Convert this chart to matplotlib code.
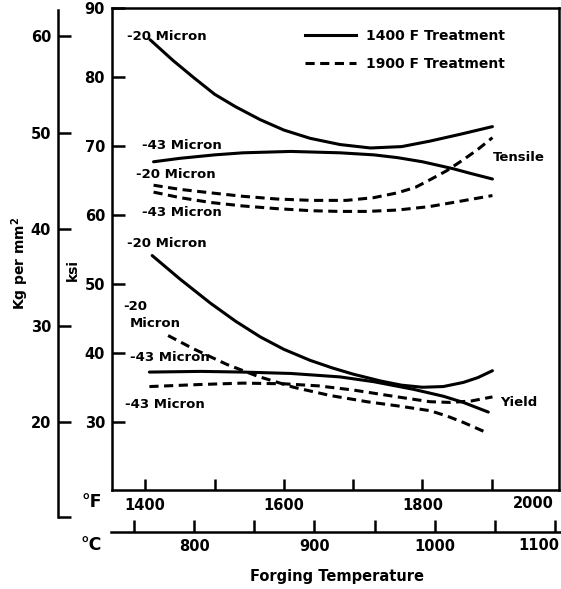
import matplotlib
matplotlib.use("Agg")
import matplotlib.pyplot as plt
from matplotlib.lines import Line2D

plt.rcParams['font.family'] = 'DejaVu Sans'
plt.rcParams['font.weight'] = 'bold'

# --- values (forging temperature F, strength ksi) ---
# tensile, 1400 F treatment
ten_20_solid_f = [1407, 1440, 1470, 1500, 1530, 1566, 1600, 1638, 1681, 1725, 1770, 1811, 1855, 1901]
ten_20_solid_k = [85.4, 82.4, 79.9, 77.5, 75.7, 73.8, 72.3, 71.1, 70.2, 69.7, 69.9, 70.7, 71.7, 72.8]
ten_43_solid_f = [1412, 1450, 1500, 1541, 1610, 1681, 1730, 1764, 1800, 1844, 1870, 1901]
ten_43_solid_k = [67.7, 68.2, 68.7, 69.0, 69.2, 69.0, 68.7, 68.3, 67.7, 66.7, 66.0, 65.2]
# tensile, 1900 F treatment
ten_20_dash_f = [1412, 1450, 1494, 1540, 1590, 1640, 1690, 1730, 1764, 1790, 1811, 1835, 1859, 1880, 1901]
ten_20_dash_k = [64.3, 63.7, 63.2, 62.7, 62.3, 62.1, 62.1, 62.5, 63.2, 64.0, 65.1, 66.4, 68.0, 69.5, 71.2]
ten_43_dash_f = [1412, 1450, 1494, 1540, 1590, 1640, 1681, 1720, 1764, 1810, 1850, 1901]
ten_43_dash_k = [63.3, 62.5, 61.8, 61.3, 60.9, 60.6, 60.5, 60.5, 60.7, 61.2, 61.9, 62.8]
# yield, 1400 F treatment
yld_20_solid_f = [1410, 1450, 1494, 1530, 1566, 1600, 1638, 1670, 1700, 1740, 1770, 1800, 1830, 1859, 1880, 1901]
yld_20_solid_k = [54.1, 50.7, 47.2, 44.6, 42.3, 40.5, 38.9, 37.8, 36.9, 35.9, 35.3, 35.0, 35.1, 35.7, 36.4, 37.4]
yld_43_solid_f = [1406, 1480, 1541, 1610, 1681, 1730, 1787, 1830, 1859, 1895]
yld_43_solid_k = [37.2, 37.3, 37.2, 37.0, 36.5, 35.8, 34.7, 33.7, 32.8, 31.4]
# yield, 1900 F treatment
yld_20_dash_f = [1433, 1469, 1518, 1562, 1614, 1667, 1720, 1764, 1811, 1836, 1859, 1893]
yld_20_dash_k = [42.5, 40.6, 38.3, 36.6, 35.0, 33.8, 32.9, 32.3, 31.6, 30.8, 29.9, 28.4]
yld_43_dash_f = [1406, 1480, 1541, 1600, 1650, 1700, 1764, 1811, 1840, 1870, 1901]
yld_43_dash_k = [35.1, 35.4, 35.6, 35.5, 35.2, 34.6, 33.6, 32.9, 32.8, 33.0, 33.6]

ksi_ticks = [30, 40, 50, 60, 70, 80, 90]
kg_ticks = [20, 30, 40, 50, 60]
f_major = [1400, 1600, 1800]
f_minor = [1500, 1700, 1900]
c_major = [800, 900, 1000]
c_minor = [750, 850, 950, 1050, 1100]

LW = 2.2
DASH = (3.0, 1.8)

fig = plt.figure(figsize=(5.61, 5.89), dpi=100)

# main box (F vs ksi)
ax = fig.add_axes([0.1996, 0.1681, 0.7968, 0.8183])
ax.set_xlim(1352, 1997)
ax.set_ylim(20.1, 90)
for s in ax.spines.values():
    s.set_linewidth(1.8)

for xs, ys in [(ten_20_solid_f, ten_20_solid_k), (ten_43_solid_f, ten_43_solid_k),
               (yld_20_solid_f, yld_20_solid_k), (yld_43_solid_f, yld_43_solid_k)]:
    ax.plot(xs, ys, color='black', lw=LW, solid_capstyle='round', solid_joinstyle='round')
for xs, ys in [(ten_20_dash_f, ten_20_dash_k), (ten_43_dash_f, ten_43_dash_k),
               (yld_20_dash_f, yld_20_dash_k), (yld_43_dash_f, yld_43_dash_k)]:
    ax.plot(xs, ys, color='black', lw=LW, dashes=DASH)

ax.set_yticks(ksi_ticks)
ax.set_xticks(f_major)
ax.set_xticks(f_minor, minor=True)
ax.tick_params(axis='both', which='both', direction='in', width=1.8, labelsize=10.5)
ax.tick_params(axis='y', length=9, pad=5)
ax.tick_params(axis='x', which='both', length=8, pad=6)

# curve labels
fs = 9.5
ax.text(1374, 85.8, '-20 Micron', fontsize=fs, va='center')
ax.text(1396, 70.0, '-43 Micron', fontsize=fs, va='center')
ax.text(1386, 65.9, '-20 Micron', fontsize=fs, va='center')
ax.text(1396, 60.3, '-43 Micron', fontsize=fs, va='center')
ax.text(1374, 55.8, '-20 Micron', fontsize=fs, va='center')
ax.text(1368, 46.7, '-20', fontsize=fs, va='center')
ax.text(1378, 44.2, 'Micron', fontsize=fs, va='center')
ax.text(1378, 39.3, '-43 Micron', fontsize=fs, va='center')
ax.text(1371, 32.5, '-43 Micron', fontsize=fs, va='center')
ax.text(1901, 68.3, 'Tensile', fontsize=fs, va='center')
ax.text(1912, 32.8, 'Yield', fontsize=fs, va='center')

handles = [Line2D([], [], color='black', lw=LW),
           Line2D([], [], color='black', lw=LW, dashes=DASH)]
ax.legend(handles, ['1400 F Treatment', '1900 F Treatment'], loc='upper left',
          bbox_to_anchor=(0.4318, 0.9564), frameon=False, borderpad=0,
          borderaxespad=0, handlelength=3.7, handletextpad=0.7,
          labelspacing=1.0, prop={'size': 10, 'weight': 'bold'})

# Kg per mm2 axis
axk = fig.add_axes([58 / 561, 1 - 517 / 589, 0.05, 507 / 589])
axk.set_ylim(10.2, 62.7)
axk.patch.set_alpha(0)
for name in ['top', 'right', 'bottom']:
    axk.spines[name].set_visible(False)
axk.spines['left'].set_linewidth(1.8)
axk.set_xticks([])
axk.set_yticks(kg_ticks)
axk.set_yticks([10.2], minor=True)
axk.tick_params(axis='y', which='both', direction='in', length=9, width=1.8,
                labelsize=10.5, pad=5)

# degrees C axis
axc = fig.add_axes([111 / 561, 1 - 532 / 589, 449 / 561, 0.03])
axc.set_xlim(731, 1104)
axc.patch.set_alpha(0)
for name in ['top', 'right', 'left']:
    axc.spines[name].set_visible(False)
axc.spines['bottom'].set_linewidth(1.8)
axc.set_yticks([])
axc.set_xticks(c_major)
axc.set_xticks(c_minor, minor=True)
axc.tick_params(axis='x', which='both', direction='in', length=9, width=1.8,
                labelsize=10.5, pad=5)

fig.text(533 / 561, 1 - 503 / 589, '2000', fontsize=10.5, ha='center', va='center')
fig.text(539 / 561, 1 - 545 / 589, '1100', fontsize=10.5, ha='center', va='center')
fig.text(92 / 561, 1 - 502 / 589, '°F', fontsize=12.5, ha='center', va='center')
fig.text(91 / 561, 1 - 545 / 589, '°C', fontsize=12.5, ha='center', va='center')
fig.text(337 / 561, 1 - 577 / 589, 'Forging Temperature', fontsize=10.5,
         ha='center', va='center')
fig.text(73 / 561, 1 - 270 / 589, 'ksi', fontsize=10, rotation=90,
         ha='center', va='center')
fig.text(20 / 561, 1 - 263 / 589, 'Kg per mm$^\\mathbf{2}$', fontsize=10, rotation=90,
         ha='center', va='center')

fig.savefig('out.png', dpi=100)
